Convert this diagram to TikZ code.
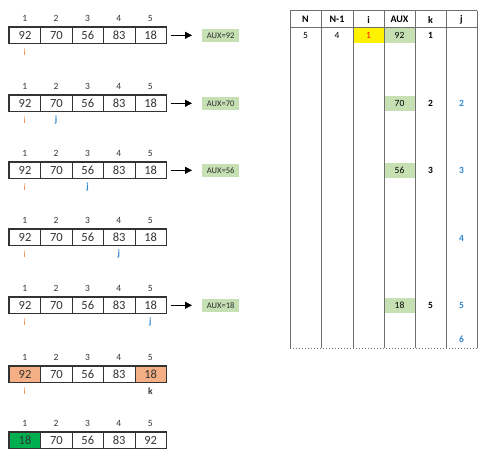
\documentclass[tikz,border=0pt]{standalone}
\usepackage{fontspec}
\setmainfont{Carlito}
\usetikzlibrary{arrows.meta}
\definecolor{iorange}{HTML}{ED7D31}
\definecolor{jblue}{HTML}{2E86D0}
\definecolor{auxgreen}{HTML}{C6E0B4}
\definecolor{swaporange}{HTML}{F4B084}
\definecolor{donegreen}{HTML}{00B050}
\definecolor{txt}{HTML}{333333}
\definecolor{tline}{HTML}{6E6E6E}
\tikzset{
  cellbox/.style={draw=txt,line width=0.6pt,minimum width=31.4pt,minimum height=16pt,inner sep=0pt,anchor=north west,font=\fontsize{12.5}{12.5}\selectfont,text=txt},
  idxlbl/.style={font=\fontsize{9.5}{9.5}\selectfont,text=txt,inner sep=0pt},
  ilbl/.style={font=\fontsize{9.5}{9.5}\selectfont,text=iorange,inner sep=0pt},
  jlbl/.style={font=\fontsize{9.5}{9.5}\selectfont\bfseries,text=jblue,inner sep=0pt},
  klbl/.style={font=\fontsize{9.5}{9.5}\selectfont\bfseries,text=txt,inner sep=0pt},
  auxbox/.style={fill=auxgreen,minimum width=37pt,minimum height=13pt,inner sep=0pt,anchor=west,font=\fontsize{8.5}{8.5}\selectfont,text=txt!80!black},
  arr/.style={line width=0.8pt,-{Triangle[length=7pt,width=7pt]}},
  tval/.style={font=\fontsize{9.5}{9.5}\selectfont,inner sep=0pt},
  tbold/.style={font=\fontsize{9.5}{9.5}\selectfont\bfseries,inner sep=0pt},
  thead/.style={font=\fontsize{10}{10}\selectfont\bfseries,inner sep=0pt},
  tl/.style={draw=tline,line width=1pt}
}
\begin{document}
\begin{tikzpicture}[x=1pt,y=-1pt]
\useasboundingbox (0,0) rectangle (492,454);
% ---------- arrays ----------
\foreach \r/\top/\va/\vb/\vc/\vd/\ve in {1/27/92/70/56/83/18, 2/95/92/70/56/83/18, 3/162/92/70/56/83/18, 4/229/92/70/56/83/18, 5/297/92/70/56/83/18, 6/366/92/70/56/83/18, 7/432/18/70/56/83/92}{
  \foreach \c/\v in {1/\va,2/\vb,3/\vc,4/\vd,5/\ve}{
    \node[cellbox] (a\r c\c) at ({9+31.4*(\c-1)},\top) {\v};
    \node[idxlbl] (n\r c\c) at ({9+31.4*(\c-0.5)},\top-9) {\c};
  }
  \draw[draw=txt,line width=1.3pt] (a\r c1.north west) rectangle (a\r c5.south east);
}
% special fills
\node[cellbox,fill=swaporange] (s1) at (9,366) {92};
\node[cellbox,fill=swaporange] (s5) at ({9+31.4*4},366) {18};
\node[cellbox,fill=donegreen] (d1) at (9,432) {18};
\draw[draw=txt,line width=1.3pt] (a6c1.north west) rectangle (a6c5.south east);
\draw[draw=txt,line width=1.3pt] (a7c1.north west) rectangle (a7c5.south east);
% i / j / k labels
\foreach \r/\top in {1/27,2/95,3/162,4/229,5/297,6/366}{
  \node[ilbl] (i\r) at ({9+31.4*0.5},\top+25) {i};
}
\node[jlbl] (j2) at ({9+31.4*1.5},95+25) {j};
\node[jlbl] (j3) at ({9+31.4*2.5},162+25) {j};
\node[jlbl] (j4) at ({9+31.4*3.5},229+25) {j};
\node[jlbl] (j5) at ({9+31.4*4.5},297+25) {j};
\node[klbl] (k6) at ({9+31.4*4.5},366+25) {k};
% arrows and AUX boxes
\foreach \r/\v in {1/92,2/70,3/56,5/18}{
  \node[auxbox] (x\r) at (202,0 |- a\r c5.east) {AUX=\v};
  \draw[arr] ([xshift=4pt]a\r c5.east) -- ([xshift=-10pt]x\r.west);
}
% ---------- table ----------
\foreach \x [count=\k] in {290,321,353,384,415,446,477}{
  \coordinate (t\k) at (\x,11);
  \coordinate (b\k) at (\x,348);
}
% fills
\fill[yellow] (353,28) rectangle (384,43);
\foreach \cy in {35.5,103.5,170.5,305.5}{
  \fill[auxgreen] (384,\cy-7.5) rectangle (415,\cy+7.5);
}
% lines
\foreach \k in {1,...,7}{ \draw[tl] (t\k) -- (b\k); }
\draw[tl] (t1) -- (t7);
\draw[tl] (290,28) -- (477,28);
\draw[draw=tline,line width=1pt,dotted] (b1) -- (b7);
% headers
\foreach \h/\cx [count=\k] in {N/305.5,N-1/337,i/368.5,AUX/399.5,k/430.5,j/461.5}{
  \node[thead] (h\k) at (\cx,19.5) {\h};
}
% values
\node[tval] (vN) at (305.5,35.5) {5};
\node[tval] (vN1) at (337,35.5) {4};
\node[tval,text=red!80!orange] (vi) at (368.5,35.5) {1};
\node[tval] (va1) at (399.5,35.5) {92};
\node[tbold] (vk1) at (430.5,35.5) {1};
\node[tval] (va2) at (399.5,103.5) {70};
\node[tbold] (vk2) at (430.5,103.5) {2};
\node[tbold,text=jblue] (vj2) at (461.5,103.5) {2};
\node[tval] (va3) at (399.5,170.5) {56};
\node[tbold] (vk3) at (430.5,170.5) {3};
\node[tbold,text=jblue] (vj3) at (461.5,170.5) {3};
\node[tbold,text=jblue] (vj4) at (461.5,238) {4};
\node[tval] (va5) at (399.5,305.5) {18};
\node[tbold] (vk5) at (430.5,305.5) {5};
\node[tbold,text=jblue] (vj5) at (461.5,305.5) {5};
\node[tbold,text=jblue] (vj6) at (461.5,339) {6};
\end{tikzpicture}
\end{document}
